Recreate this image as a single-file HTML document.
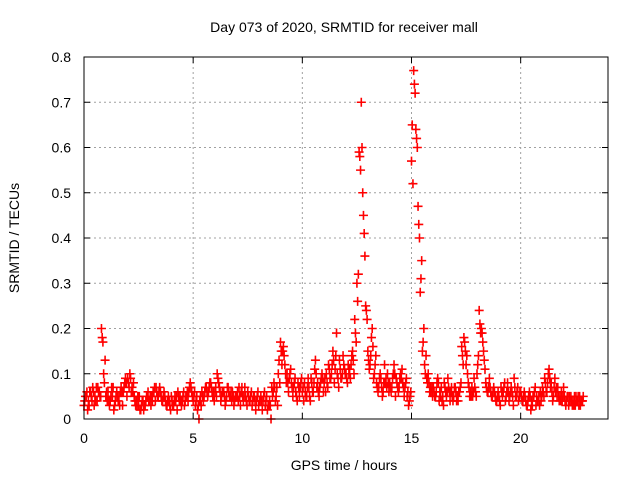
<!DOCTYPE html>
<html><head><meta charset="utf-8"><style>
body{margin:0;background:#fff;}
svg text{font-family:"Liberation Sans",sans-serif;font-size:14px;fill:#000;}
</style></head><body>
<svg id="chart" width="640" height="480" xmlns="http://www.w3.org/2000/svg">
<rect width="640" height="480" fill="#fff"/>
<text x="344" y="32" text-anchor="middle">Day 073 of 2020, SRMTID for receiver mall</text>
<text x="344" y="470" text-anchor="middle">GPS time / hours</text>
<text transform="translate(19,238) rotate(-90)" text-anchor="middle">SRMTID / TECUs</text>
<g id="grid"></g>
<g id="ticks"></g>
<g id="marks"></g>
<rect x="84" y="57" width="524" height="362" fill="none" stroke="#000" stroke-width="1"/>
</svg>
<script>
const xTicks=[0,5,10,15,20];
const yTicks=[0,0.1,0.2,0.3,0.4,0.5,0.6,0.7,0.8];
const yTickLabels=["0","0.1","0.2","0.3","0.4","0.5","0.6","0.7","0.8"];
const startHour=0, stepHours=0.1;
const seriesA=[
0.03,0.05,0.04,0.06,0.07,0.05,0.04,0.06,0.20,0.10,
0.05,0.06,0.04,0.05,0.03,0.06,0.05,0.07,0.06,0.09,
0.09,0.10,0.07,0.05,0.04,0.03,0.02,0.04,0.03,0.05,
0.04,0.05,0.06,0.07,0.05,0.06,0.04,0.05,0.03,0.04,
0.05,0.03,0.04,0.06,0.05,0.04,0.03,0.05,0.06,0.07,
0.04,0.03,0.02,0.04,0.06,0.05,0.07,0.06,0.08,0.05,
0.06,0.10,0.07,0.05,0.06,0.04,0.07,0.05,0.06,0.04,
0.05,0.07,0.06,0.04,0.05,0.06,0.04,0.03,0.05,0.04,
0.03,0.05,0.04,0.03,0.02,0.04,0.07,0.08,0.05,0.10,
0.17,0.15,0.12,0.10,0.09,0.08,0.07,0.06,0.08,0.07,
0.06,0.08,0.05,0.07,0.09,0.06,0.13,0.08,0.07,0.10,
0.08,0.10,0.12,0.09,0.15,0.11,0.10,0.13,0.09,0.12,
0.10,0.12,0.09,0.15,0.22,0.30,0.59,0.70,0.45,0.25,
0.15,0.12,0.20,0.10,0.08,0.07,0.09,0.06,0.08,0.10,
0.08,0.07,0.12,0.09,0.06,0.10,0.08,0.07,0.05,0.04,
0.57,0.77,0.64,0.47,0.28,0.15,0.12,0.09,0.08,0.06,
0.07,0.05,0.09,0.06,0.04,0.08,0.05,0.07,0.06,0.04,
0.07,0.05,0.06,0.16,0.18,0.12,0.08,0.06,0.05,0.07,
0.10,0.24,0.20,0.15,0.08,0.06,0.07,0.05,0.06,0.04,
0.05,0.07,0.06,0.04,0.08,0.05,0.06,0.09,0.05,0.04,
0.06,0.04,0.05,0.03,0.06,0.04,0.05,0.03,0.04,0.06,
0.07,0.09,0.06,0.11,0.08,0.05,0.06,0.07,0.05,0.04,
0.05,0.04,0.03,0.05,0.04,0.03,0.04,0.05,0.04];
const seriesB=[
0.05,0.02,0.06,0.04,0.03,0.07,0.06,0.05,0.17,0.13,
0.04,0.03,0.07,0.02,0.05,0.04,0.06,0.03,0.08,0.05,
0.07,0.06,0.08,0.03,0.05,0.02,0.04,0.03,0.05,0.04,
0.03,0.06,0.04,0.05,0.07,0.04,0.06,0.03,0.05,0.02,
0.03,0.05,0.02,0.04,0.03,0.06,0.05,0.04,0.08,0.05,
0.06,0.05,0.00,0.03,0.04,0.07,0.05,0.08,0.06,0.04,
0.05,0.08,0.04,0.06,0.03,0.07,0.05,0.04,0.03,0.05,
0.04,0.03,0.05,0.07,0.03,0.04,0.06,0.05,0.02,0.06,
0.04,0.02,0.06,0.05,0.03,0.00,0.06,0.04,0.03,0.08,
0.12,0.14,0.08,0.06,0.11,0.05,0.09,0.04,0.05,0.09,
0.04,0.05,0.09,0.04,0.06,0.11,0.07,0.05,0.09,0.06,
0.06,0.07,0.09,0.12,0.08,0.19,0.07,0.09,0.14,0.10,
0.08,0.11,0.14,0.10,0.17,0.32,0.55,0.50,0.36,0.22,
0.11,0.18,0.09,0.14,0.06,0.10,0.05,0.12,0.07,0.06,
0.06,0.10,0.05,0.07,0.09,0.11,0.05,0.09,0.03,0.06,
0.52,0.72,0.60,0.40,0.35,0.20,0.14,0.10,0.07,0.05,
0.05,0.08,0.04,0.07,0.03,0.06,0.09,0.04,0.05,0.07,
0.04,0.06,0.08,0.12,0.15,0.10,0.05,0.07,0.09,0.05,
0.14,0.19,0.17,0.11,0.06,0.09,0.05,0.07,0.04,0.06,
0.03,0.05,0.08,0.06,0.04,0.07,0.03,0.05,0.07,0.06,
0.04,0.06,0.03,0.05,0.02,0.05,0.07,0.04,0.03,0.05,
0.05,0.06,0.10,0.07,0.04,0.09,0.05,0.04,0.06,0.07,
0.03,0.05,0.04,0.03,0.05,0.04,0.03,0.04,0.05];
const seriesC=[
0.04,0.06,0.03,0.05,0.06,0.04,0.07,0.05,0.18,0.08,
0.06,0.04,0.05,0.07,0.04,0.05,0.03,0.06,0.07,0.08,
0.08,0.09,0.06,0.04,0.03,0.05,0.03,0.02,0.04,0.06,
0.05,0.04,0.07,0.06,0.06,0.05,0.05,0.04,0.04,0.03,
0.04,0.04,0.05,0.05,0.04,0.05,0.04,0.06,0.07,0.06,
0.05,0.04,0.03,0.05,0.05,0.06,0.06,0.07,0.07,0.06,
0.07,0.09,0.06,0.06,0.05,0.05,0.06,0.06,0.05,0.05,
0.06,0.05,0.07,0.05,0.04,0.05,0.05,0.04,0.04,0.05,
0.04,0.04,0.05,0.04,0.03,0.03,0.05,0.07,0.07,0.13,
0.15,0.16,0.10,0.08,0.10,0.07,0.08,0.05,0.07,0.08,
0.07,0.06,0.07,0.05,0.08,0.08,0.10,0.06,0.08,0.09,
0.09,0.08,0.11,0.10,0.13,0.14,0.09,0.11,0.10,0.11,
0.09,0.10,0.12,0.13,0.19,0.26,0.58,0.60,0.41,0.24,
0.13,0.14,0.16,0.12,0.07,0.09,0.07,0.08,0.09,0.08,
0.07,0.09,0.10,0.08,0.07,0.09,0.07,0.08,0.06,0.05,
0.65,0.74,0.62,0.43,0.31,0.17,0.10,0.08,0.06,0.07,
0.06,0.06,0.08,0.05,0.05,0.07,0.06,0.06,0.07,0.05,
0.06,0.04,0.07,0.14,0.17,0.14,0.07,0.05,0.06,0.06,
0.12,0.21,0.19,0.13,0.07,0.07,0.06,0.06,0.05,0.05,
0.04,0.06,0.07,0.05,0.06,0.06,0.05,0.07,0.06,0.05,
0.05,0.05,0.04,0.04,0.05,0.03,0.06,0.05,0.05,0.04,
0.06,0.08,0.08,0.09,0.06,0.07,0.07,0.05,0.04,0.05,
0.04,0.05,0.05,0.04,0.03,0.05,0.05,0.03,0.04];
const X0=84,X1=608,Y0=419,Y1=57,XMAX=24,YMAX=0.8;
const xs=v=>X0+(v/XMAX)*(X1-X0);
const ys=v=>Y0-(v/YMAX)*(Y0-Y1);
const NS="http://www.w3.org/2000/svg";
const grid=document.getElementById('grid'),ticks=document.getElementById('ticks'),marks=document.getElementById('marks');
function mk(tag,attrs,parent){const e=document.createElementNS(NS,tag);for(const k in attrs)e.setAttribute(k,attrs[k]);parent.appendChild(e);return e;}
xTicks.forEach(t=>{
  const x=xs(t);
  if(t>0){const g=mk('line',{x1:x,x2:x,y1:Y0,y2:Y1,stroke:'#a0a0a0','stroke-dasharray':'2,3'},grid);
  
  }
  const l=mk('text',{x:x,y:443,'text-anchor':'middle'},ticks);l.textContent=String(t);
  
  
  mk('line',{x1:x,x2:x,y1:Y0,y2:Y0-6,stroke:'#000'},ticks);
  mk('line',{x1:x,x2:x,y1:Y1,y2:Y1+6,stroke:'#000'},ticks);
});
yTicks.forEach((t,i)=>{
  const y=ys(t);
  if(t>0&&t<YMAX){const g=mk('line',{x1:X0,x2:X1,y1:y,y2:y,stroke:'#a0a0a0','stroke-dasharray':'2,3'},grid);
  
  }
  const l=mk('text',{x:71,y:y+5,'text-anchor':'end'},ticks);l.textContent=yTickLabels[i];
  
  
  mk('line',{x1:X0,x2:X0+6,y1:y,y2:y,stroke:'#000'},ticks);
  mk('line',{x1:X1,x2:X1-6,y1:y,y2:y,stroke:'#000'},ticks);
});
function plus(t,v,col){
  const x=xs(t),y=ys(v);
  const p=mk('path',{d:`M${x-4.5},${y}H${x+4.5}M${x},${y-4.5}V${y+4.5}`,stroke:col,'stroke-width':1.6,fill:'none'},marks);
  
  
}
seriesA.forEach((v,i)=>plus(startHour+i*stepHours,v,'#ff0000'));
seriesC.forEach((v,i)=>plus(startHour+i*stepHours+0.033,v,'#ff0000'));
seriesB.forEach((v,i)=>plus(startHour+i*stepHours+0.066,v,'#ff0000'));
</script>
</body></html>
